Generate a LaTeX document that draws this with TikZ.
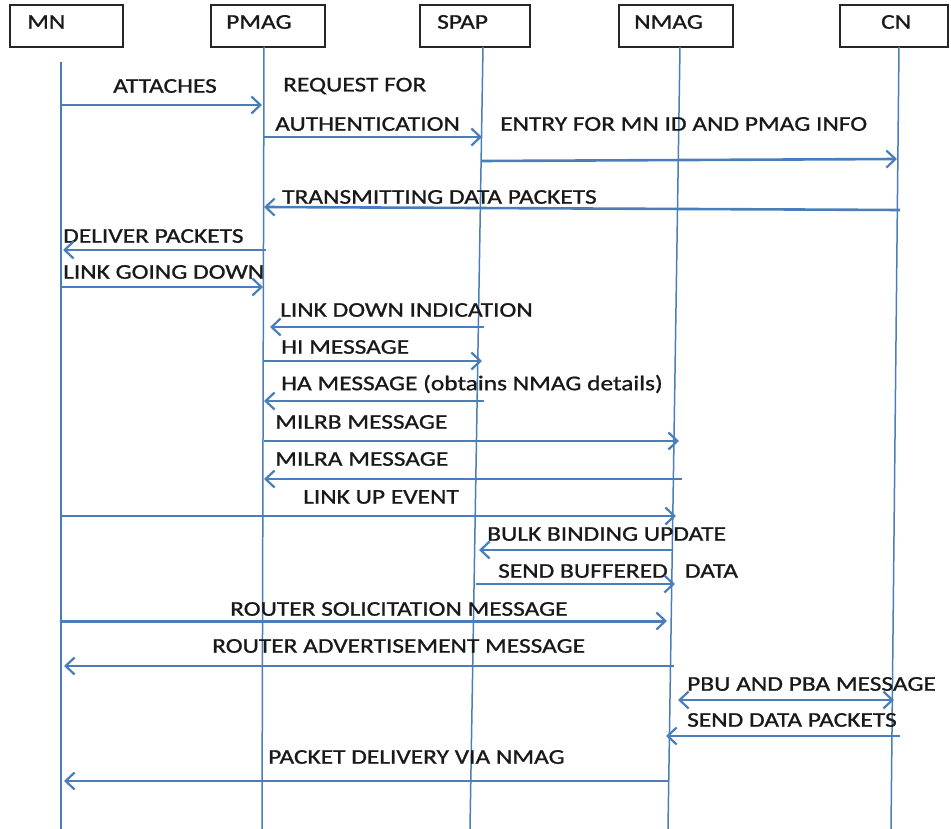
\documentclass[tikz,border=0pt]{standalone}
\usepackage{fontspec}
\setmainfont{Carlito}[FakeStretch=1.21,FakeBold=1.0]
\usetikzlibrary{arrows.meta}
\definecolor{lineblue}{HTML}{4A7EBB}
\tikzset{
  actor/.style={draw=black!85, line width=1.3pt, minimum height=42pt, inner sep=0pt},
  atext/.style={anchor=west, inner sep=0pt, font=\fontsize{21}{21}\selectfont, text=black!90},
  life/.style={draw=lineblue, line width=1.5pt},
  msg/.style={draw=lineblue, line width=2.6pt, -{Straight Barb[length=9pt,width=17pt,line width=2.2pt]}},
  dmsg/.style={draw=lineblue, line width=2.6pt, {Straight Barb[length=9pt,width=17pt,line width=2.2pt]}-{Straight Barb[length=9pt,width=17pt,line width=2.2pt]}},
  lbl/.style={anchor=west, inner sep=0pt, font=\fontsize{21}{21}\selectfont, text=black!90}
}
\begin{document}
\begin{tikzpicture}[x=1pt,y=-1pt]
\useasboundingbox (0,0) rectangle (951,829);
% actor boxes
\node[actor, minimum width=113pt] (bMN) at (66.5,26) {};
\node[atext] (tMN) at (27,22) {MN};
\node[actor, minimum width=114pt] (bPMAG) at (268,26) {};
\node[atext] (tPMAG) at (226,22) {PMAG};
\node[actor, minimum width=110pt] (bSPAP) at (475,26) {};
\node[atext] (tSPAP) at (437,22) {SPAP};
\node[actor, minimum width=114pt] (bNMAG) at (676,26) {};
\node[atext] (tNMAG) at (634,22) {NMAG};
\node[actor, minimum width=108pt] (bCN) at (894,26) {};
\node[atext] (tCN) at (881,22) {CN};
% lifelines
\coordinate (mnT) at (61,62);   \coordinate (mnB) at (61,829);
\coordinate (pmT) at (264,47);  \coordinate (pmB) at (262,829);
\coordinate (spT) at (483,47);  \coordinate (spB) at (470,829);
\coordinate (nmT) at (680,47);  \coordinate (nmB) at (668,829);
\coordinate (cnT) at (899,47);  \coordinate (cnB) at (891,829);
\draw[life] (mnT) -- (mnB);
\draw[life] (pmT) -- (pmB);
\draw[life] (spT) -- (spB);
\draw[life] (nmT) -- (nmB);
\draw[life] (cnT) -- (cnB);
% messages
\coordinate (m1a) at (61,105);  \coordinate (m1b) at (262,105);
\draw[msg] (m1a) -- (m1b);
\node[lbl] (l1) at (113,86) {ATTACHES};
\node[lbl] (l2a) at (283,86) {REQUEST FOR};
\node[lbl] (l2b) at (275,124) {AUTHENTICATION};
\coordinate (m2a) at (264,137); \coordinate (m2b) at (482,137);
\draw[msg] (m2a) -- (m2b);
\node[lbl] (l3) at (500,124) {ENTRY FOR MN ID AND PMAG INFO};
\coordinate (m3a) at (482,161); \coordinate (m3b) at (897,159);
\draw[msg] (m3a) -- (m3b);
\node[lbl] (l4) at (282,197) {TRANSMITTING DATA PACKETS};
\coordinate (m4a) at (900,210); \coordinate (m4b) at (264,207);
\draw[msg] (m4a) -- (m4b);
\node[lbl] (l5) at (63,236) {DELIVER PACKETS};
\coordinate (m5a) at (266,250); \coordinate (m5b) at (63,250);
\draw[msg] (m5a) -- (m5b);
\node[lbl] (l6) at (63,272) {LINK GOING DOWN};
\coordinate (m6a) at (61,287); \coordinate (m6b) at (263,287);
\draw[msg] (m6a) -- (m6b);
\node[lbl] (l7) at (280,310) {LINK DOWN INDICATION};
\coordinate (m7a) at (484,327); \coordinate (m7b) at (270,327);
\draw[msg] (m7a) -- (m7b);
\node[lbl] (l8) at (281,347) {HI MESSAGE};
\coordinate (m8a) at (264,361); \coordinate (m8b) at (482,361);
\draw[msg] (m8a) -- (m8b);
\node[lbl] (l9) at (281,384) {HA MESSAGE (obtains NMAG details)};
\coordinate (m9a) at (484,401); \coordinate (m9b) at (264,401);
\draw[msg] (m9a) -- (m9b);
\node[lbl] (l10) at (275,422) {MILRB MESSAGE};
\coordinate (m10a) at (264,441); \coordinate (m10b) at (679,441);
\draw[msg] (m10a) -- (m10b);
\node[lbl] (l11) at (275,459) {MILRA MESSAGE};
\coordinate (m11a) at (682,479); \coordinate (m11b) at (264,479);
\draw[msg] (m11a) -- (m11b);
\node[lbl] (l12) at (303,497) {LINK UP EVENT};
\coordinate (m12a) at (61,516); \coordinate (m12b) at (676,516);
\draw[msg] (m12a) -- (m12b);
\node[lbl] (l13) at (487,534) {BULK BINDING UPDATE};
\coordinate (m13a) at (672,550); \coordinate (m13b) at (479,550);
\draw[msg] (m13a) -- (m13b);
\node[lbl] (l14) at (498,571) {SEND BUFFERED \ \ DATA};
\coordinate (m14a) at (476,584); \coordinate (m14b) at (675,584);
\draw[msg] (m14a) -- (m14b);
\node[lbl] (l15) at (230,609) {ROUTER SOLICITATION MESSAGE};
\coordinate (m15a) at (61,621); \coordinate (m15b) at (667,621);
\draw[msg, line width=3pt] (m15a) -- (m15b);
\node[lbl] (l16) at (212,646) {ROUTER ADVERTISEMENT MESSAGE};
\coordinate (m16a) at (674,666); \coordinate (m16b) at (64,666);
\draw[msg] (m16a) -- (m16b);
\node[lbl] (l17) at (687,684) {PBU AND PBA MESSAGE};
\coordinate (m17a) at (678,700); \coordinate (m17b) at (894,700);
\draw[dmsg] (m17a) -- (m17b);
\node[lbl] (l18) at (687,720) {SEND DATA PACKETS};
\coordinate (m18a) at (900,736); \coordinate (m18b) at (666,736);
\draw[msg] (m18a) -- (m18b);
\node[lbl] (l19) at (268,757) {PACKET DELIVERY VIA NMAG};
\coordinate (m19a) at (668,781); \coordinate (m19b) at (64,781);
\draw[msg] (m19a) -- (m19b);
\end{tikzpicture}
\end{document}
